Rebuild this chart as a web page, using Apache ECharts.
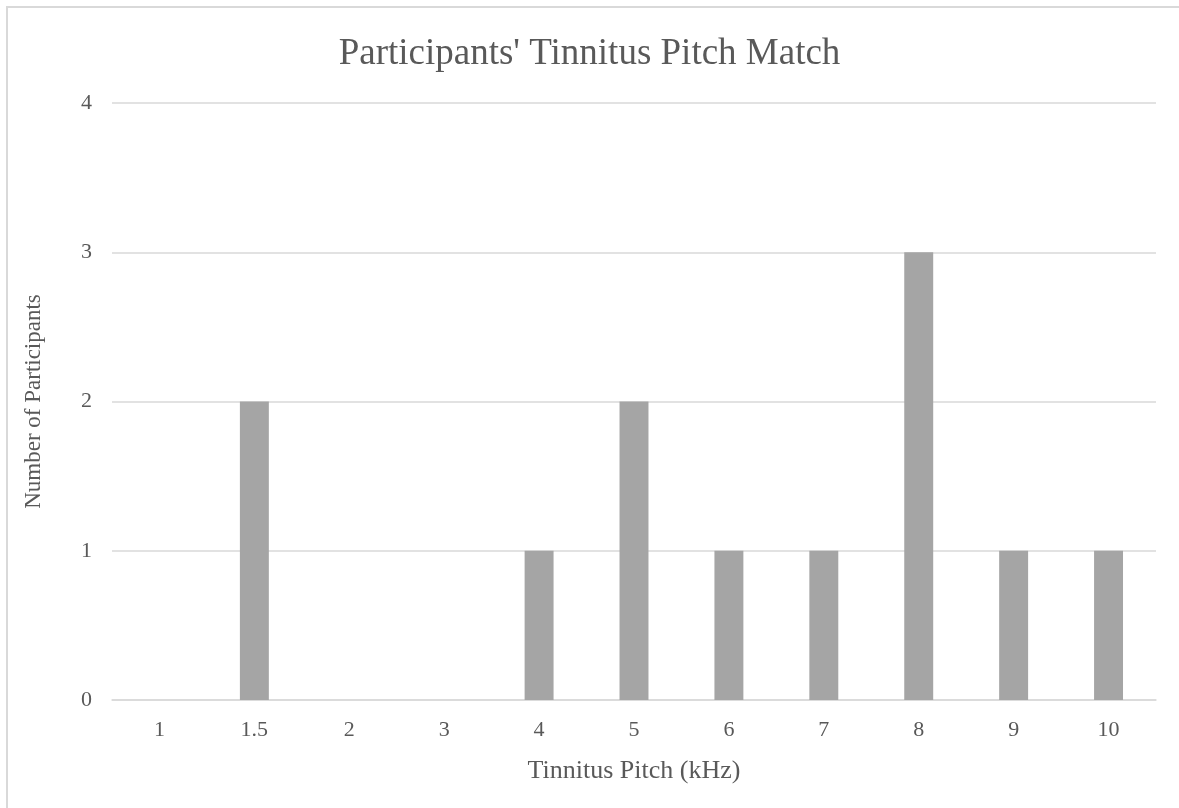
<!DOCTYPE html>
<html>
<head>
<meta charset="utf-8">
<script src="https://cdn.jsdelivr.net/npm/echarts@6/dist/echarts.min.js"></script>
<style>
  html, body { margin: 0; padding: 0; background: #fff; overflow: hidden; }
  #frame { position: absolute; left: 6px; top: 6px; width: 1300px; height: 1000px;
           border: 2px solid #d9d9d9; box-sizing: border-box; }
  #chart { position: absolute; left: 0; top: 0; width: 1179px; height: 808px; }
</style>
</head>
<body>
<div id="frame"></div>
<div id="chart"></div>
<script>
// Tinnitus pitch categories (kHz) and participant counts
const pitchLabels = ['1', '1.5', '2', '3', '4', '5', '6', '7', '8', '9', '10'];
const participantCounts = [0, 2, 0, 0, 1, 2, 1, 1, 3, 1, 1];
const yTicks = [0, 1, 2, 3, 4];

const serif = '"Liberation Serif", "Times New Roman", serif';
const textColor = '#595959';
const lineColor = '#d9d9d9';

const chart = echarts.init(document.getElementById('chart'), null, { renderer: 'canvas' });
chart.setOption({
  backgroundColor: 'transparent',
  animation: false,
  title: {
    text: "Participants' Tinnitus Pitch Match",
    left: 'center',
    top: 31,
    textStyle: { fontFamily: serif, fontSize: 37, fontWeight: 'normal', color: textColor }
  },
  grid: { left: 112, right: 23, top: 103, bottom: 108, containLabel: false },
  xAxis: {
    type: 'category',
    data: pitchLabels,
    name: 'Tinnitus Pitch (kHz)',
    nameLocation: 'middle',
    nameGap: 58,
    nameTextStyle: { fontFamily: serif, fontSize: 26, color: textColor },
    axisLine: { show: true, lineStyle: { color: lineColor, width: 1.5 } },
    axisTick: { show: false },
    axisLabel: { fontFamily: serif, fontSize: 22, color: textColor, margin: 19 }
  },
  yAxis: {
    type: 'value',
    min: yTicks[0],
    max: yTicks[yTicks.length - 1],
    interval: 1,
    name: 'Number of Participants',
    nameLocation: 'middle',
    nameGap: 67,
    nameRotate: 90,
    nameTextStyle: { fontFamily: serif, fontSize: 23, color: textColor },
    axisLine: { show: false },
    axisTick: { show: false },
    axisLabel: { fontFamily: serif, fontSize: 22, color: textColor, margin: 20 },
    splitLine: { show: true, lineStyle: { color: lineColor, width: 1.5 } }
  },
  series: [{
    type: 'bar',
    data: participantCounts,
    barWidth: '30.5%',
    itemStyle: { color: '#a5a5a5' }
  }]
});
</script>
</body>
</html>
